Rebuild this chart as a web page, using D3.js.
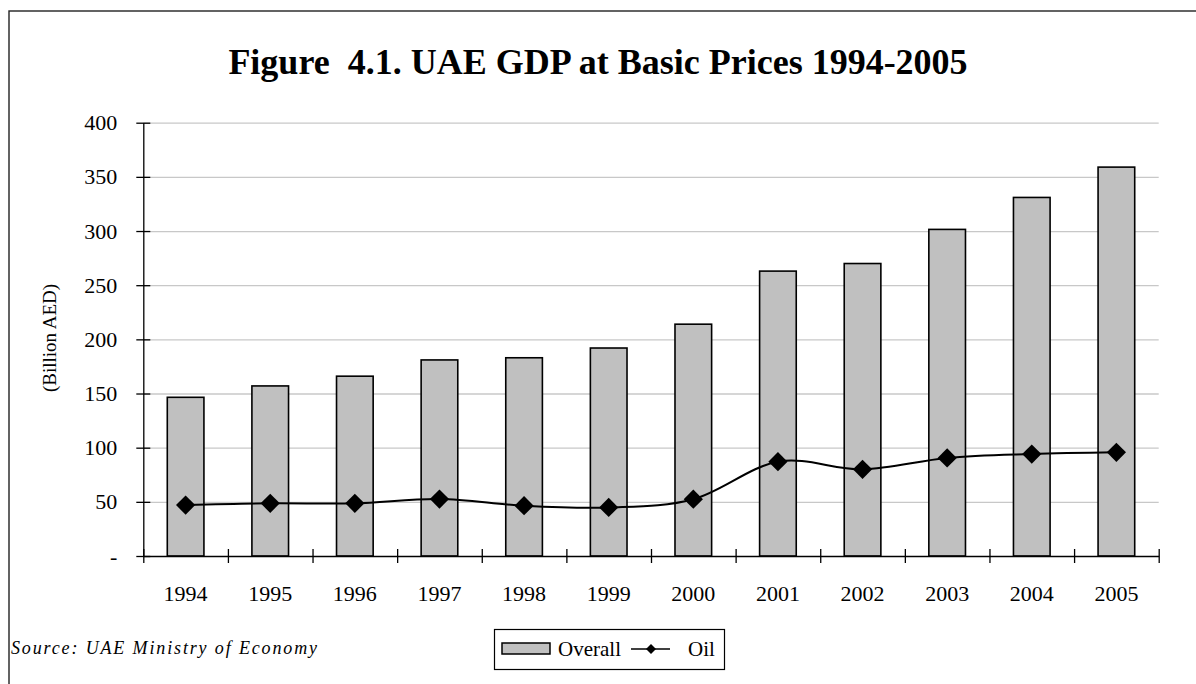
<!DOCTYPE html>
<html>
<head>
<meta charset="utf-8">
<script src="https://cdn.jsdelivr.net/npm/d3@7"></script>
<style>
  body { margin: 0; background: #fff; }
  text { font-family: "Liberation Serif", "Times New Roman", serif; fill: #000; }
</style>
</head>
<body>
<div id="chart"></div>
<script>

var width = 1196;
var height = 684;

// ---------------- data
var years = ["1994", "1995", "1996", "1997", "1998", "1999", "2000", "2001", "2002", "2003", "2004", "2005"];
var overall = [146.5, 157, 166, 181, 183, 192, 214, 263, 270, 301.5, 331, 359];
var oil = [47, 48.6, 48.6, 52.6, 46.4, 44.8, 52.4, 87.1, 80, 90.5, 94.1, 95.7];
var yTicks = [0, 50, 100, 150, 200, 250, 300, 350, 400];

var svg = d3.select("#chart").append("svg")
    .attr("width", width)
    .attr("height", height);

// frame (only top + left edges show in the picture)
svg.append("rect")
    .attr("x", 9).attr("y", 11)
    .attr("width", width + 20).attr("height", height + 20)
    .attr("fill", "none")
    .attr("stroke", "#222")
    .attr("stroke-width", 1.4);

// title
svg.append("text")
    .attr("x", 598).attr("y", 74)
    .attr("text-anchor", "middle")
    .attr("font-size", 36)
    .attr("font-weight", "bold")
    .style("white-space", "pre")
    .text("Figure  4.1. UAE GDP at Basic Prices 1994-2005");

// ---------------- scales
var x0 = 143.3, x1 = 1158.7;
var x = d3.scaleBand().domain(years).range([x0, x1]).padding(0);
var xEdge = d3.scaleLinear().domain([0, years.length]).range([x0, x1]);
var y = d3.scaleLinear().domain([0, 400]).range([556, 122.7]);

var bw = x.bandwidth() * 0.433;

// gridlines
svg.append("g")
    .attr("transform", "translate(" + x0 + ",0)")
    .call(d3.axisRight(y).tickValues(yTicks.slice(1)).tickSize(x1 - x0).tickFormat(""))
    .call(function (g) {
        g.select(".domain").remove();
        g.selectAll("line").attr("stroke", "#c8c8c8").attr("stroke-width", 1.3);
    });

// bars
svg.append("g").selectAll("rect")
    .data(years)
    .enter().append("rect")
    .attr("x", function (d) { return x(d) + (x.bandwidth() - bw) / 2; })
    .attr("y", function (d, i) { return y(overall[i]); })
    .attr("width", bw)
    .attr("height", function (d, i) { return y(0) - y(overall[i]); })
    .attr("fill", "#c0c0c0")
    .attr("stroke", "#000")
    .attr("stroke-width", 1.6);

// y axis
svg.append("g")
    .attr("transform", "translate(" + x0 + ",0)")
    .call(d3.axisLeft(y).tickValues(yTicks).tickSize(7).tickSizeOuter(0).tickPadding(19)
        .tickFormat(function (d) { return d === 0 ? "-" : d; }))
    .call(function (g) {
        g.select(".domain").attr("stroke", "#000").attr("stroke-width", 1.3);
        g.selectAll("line").attr("x1", 7).attr("stroke", "#000").attr("stroke-width", 1.3);
        g.selectAll("text").attr("font-size", 22).attr("font-family", "Liberation Serif");
    });

// x axis (ticks on category edges)
svg.append("g")
    .attr("transform", "translate(0," + y(0) + ")")
    .call(d3.axisBottom(xEdge).tickValues(d3.range(years.length + 1)).tickSize(7).tickSizeOuter(0).tickFormat(""))
    .call(function (g) {
        g.select(".domain").attr("stroke", "#000").attr("stroke-width", 1.3);
        g.selectAll("line").attr("y1", -7).attr("stroke", "#000").attr("stroke-width", 1.3);
    });

// x labels
svg.append("g")
    .attr("transform", "translate(0," + y(0) + ")")
    .call(d3.axisBottom(x).tickSize(0).tickPadding(29))
    .call(function (g) {
        g.select(".domain").remove();
        g.selectAll("text").attr("font-size", 22).attr("font-family", "Liberation Serif");
    });

// y axis title
svg.append("text")
    .attr("transform", "translate(56,338) rotate(-90)")
    .attr("text-anchor", "middle")
    .attr("font-size", 19)
    .text("(Billion AED)");

// ---------------- oil line
var line = d3.line()
    .curve(d3.curveCardinal.tension(0))
    .x(function (d, i) { return x(years[i]) + x.bandwidth() / 2; })
    .y(function (d) { return y(d); });

svg.append("path")
    .attr("d", line(oil))
    .attr("fill", "none")
    .attr("stroke", "#000")
    .attr("stroke-width", 2);

var diamond = d3.symbol().type(d3.symbolSquare).size(185);

svg.append("g").selectAll("path")
    .data(oil)
    .enter().append("path")
    .attr("transform", function (d, i) {
        return "translate(" + (x(years[i]) + x.bandwidth() / 2) + "," + y(d) + ") rotate(45)";
    })
    .attr("d", diamond)
    .attr("fill", "#000");

// ---------------- legend
var legend = svg.append("g");

legend.append("rect")
    .attr("x", 494.5).attr("y", 629.5)
    .attr("width", 230).attr("height", 40)
    .attr("fill", "#fff")
    .attr("stroke", "#000")
    .attr("stroke-width", 1.2);

legend.append("rect")
    .attr("x", 502).attr("y", 643)
    .attr("width", 48).attr("height", 11)
    .attr("fill", "#c0c0c0")
    .attr("stroke", "#000")
    .attr("stroke-width", 1.5);

legend.append("text")
    .attr("x", 558).attr("y", 656)
    .attr("font-size", 21)
    .text("Overall");

legend.append("line")
    .attr("x1", 631).attr("x2", 670)
    .attr("y1", 649).attr("y2", 649)
    .attr("stroke", "#000")
    .attr("stroke-width", 1.6);

legend.append("path")
    .attr("transform", "translate(651,649) rotate(45)")
    .attr("d", d3.symbol().type(d3.symbolSquare).size(50))
    .attr("fill", "#000");

legend.append("text")
    .attr("x", 688).attr("y", 656)
    .attr("font-size", 21)
    .text("Oil");

// source note
svg.append("text")
    .attr("x", 11).attr("y", 654)
    .attr("font-size", 18)
    .attr("font-style", "italic")
    .attr("textLength", 306)
    .attr("lengthAdjust", "spacing")
    .text("Source: UAE Ministry of Economy");

</script>
</body>
</html>
